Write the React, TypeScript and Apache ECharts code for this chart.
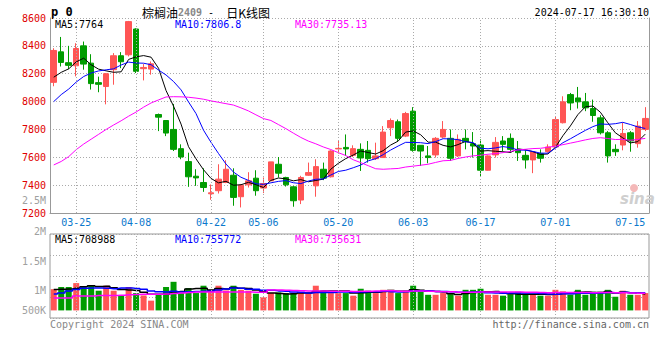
import React, { useEffect, useRef } from 'react';
import * as echarts from 'echarts';

// ---------- data ----------
const dates = [
  '03-20','03-21','03-22','03-25','03-26','03-27','03-28','03-29',
  '04-01','04-02','04-03','04-08','04-09','04-10','04-11','04-12','04-15','04-16','04-17','04-18','04-19','04-22','04-23','04-24','04-25','04-26','04-29','04-30',
  '05-06','05-07','05-08','05-09','05-10','05-13','05-14','05-15','05-16','05-17','05-20','05-21','05-22','05-23','05-24','05-27','05-28','05-29','05-30','05-31',
  '06-03','06-04','06-05','06-06','06-07','06-11','06-12','06-13','06-14','06-17','06-18','06-19','06-20','06-21','06-24','06-25','06-26','06-27','06-28',
  '07-01','07-02','07-03','07-04','07-05','07-08','07-09','07-10','07-11','07-12','07-15','07-16','07-17',
];
const opens = [
  8138, 8357, 8279, 8257, 8400, 8276, 8136, 8108, 8229, 8329,
  8336, 8521, 8236, 8233, 7907, 7864, 7800, 7662, 7569, 7464,
  7419, 7338, 7360, 7419, 7471, 7317, 7402, 7450, 7379, 7431,
  7550, 7455, 7388, 7293, 7471, 7395, 7514, 7460, 7660, 7671,
  7614, 7657, 7650, 7590, 7598, 7812, 7855, 7752, 7931, 7686,
  7610, 7617, 7745, 7736, 7610, 7736, 7698, 7688, 7507, 7617,
  7717, 7736, 7657, 7614, 7581, 7626, 7640, 7674, 7848, 8050,
  8026, 7998, 7950, 7883, 7776, 7657, 7688, 7776, 7698, 7800,
];
const closes = [
  8367, 8281, 8260, 8381, 8269, 8129, 8124, 8200, 8329, 8286,
  8574, 8217, 8245, 8271, 7888, 7774, 7657, 7602, 7460, 7452,
  7383, 7345, 7443, 7514, 7312, 7400, 7431, 7360, 7412, 7567,
  7486, 7402, 7288, 7455, 7490, 7533, 7450, 7645, 7664, 7660,
  7662, 7595, 7590, 7610, 7781, 7864, 7736, 7914, 7650, 7645,
  7598, 7736, 7800, 7593, 7729, 7712, 7681, 7507, 7610, 7707,
  7693, 7657, 7633, 7581, 7638, 7593, 7674, 7871, 7998, 7990,
  7998, 7955, 7900, 7776, 7610, 7640, 7771, 7717, 7824, 7879,
];
const lows = [
  8110, 8252, 8233, 8181, 8229, 8086, 8067, 7980, 8121, 8240,
  8324, 8205, 8152, 8193, 7788, 7752, 7645, 7586, 7388, 7395,
  7352, 7295, 7340, 7414, 7252, 7240, 7383, 7324, 7343, 7431,
  7455, 7390, 7245, 7264, 7467, 7317, 7436, 7455, 7626, 7610,
  7602, 7502, 7562, 7581, 7598, 7752, 7717, 7745, 7640, 7538,
  7557, 7598, 7736, 7574, 7602, 7657, 7598, 7460, 7505, 7598,
  7645, 7633, 7574, 7519, 7486, 7562, 7633, 7669, 7843, 7938,
  7950, 7931, 7855, 7764, 7562, 7610, 7650, 7640, 7669, 7788,
];
const highs = [
  8383, 8464, 8400, 8419, 8431, 8340, 8179, 8205, 8348, 8355,
  8579, 8526, 8269, 8288, 7914, 7864, 7983, 7693, 7633, 7514,
  7521, 7405, 7550, 7579, 7521, 7407, 7493, 7507, 7455, 7567,
  7602, 7460, 7395, 7467, 7562, 7586, 7562, 7650, 7717, 7764,
  7686, 7700, 7717, 7705, 7824, 7879, 7871, 7926, 7960, 7686,
  7681, 7745, 7860, 7800, 7764, 7800, 7781, 7729, 7614, 7745,
  7752, 7771, 7717, 7650, 7645, 7657, 7693, 7895, 8038, 8062,
  8105, 8062, 8014, 7902, 7788, 7693, 7848, 7788, 7860, 7960,
];
const volumes = [
  911000, 1004000, 1004000, 1172000, 1004000, 1088000, 846000, 1060000, 846000, 642000,
  1004000, 744000, 642000, 419000, 670000, 1004000, 1228000, 744000, 958000, 744000,
  1060000, 884000, 1060000, 856000, 1060000, 884000, 846000, 716000, 558000, 744000,
  772000, 744000, 744000, 744000, 744000, 1060000, 856000, 744000, 744000, 744000,
  632000, 930000, 846000, 744000, 884000, 884000, 744000, 846000, 1060000, 818000,
  670000, 670000, 744000, 698000, 632000, 884000, 884000, 930000, 670000, 670000,
  632000, 698000, 800000, 670000, 670000, 632000, 632000, 884000, 818000, 670000,
  884000, 670000, 800000, 800000, 884000, 586000, 846000, 670000, 670000, 744000,
];
// moving-average values before enough history exists in the window
const ma5Head = [8175, 8210, 8235, 8285];
const ma10Head = [8000, 8050, 8090, 8140, 8180, 8205, 8220, 8228, 8235];
const ma30Head = [
  7545, 7570, 7605, 7655, 7695, 7730, 7765, 7800, 7832, 7862,
  7895, 7925, 7960, 7990, 8012, 8033, 8035, 8034, 8031, 8025,
  8017, 8005, 7995, 7985, 7975, 7955, 7933, 7905, 7878,
];
const vma5Head = [902000, 911000, 921000, 949000];
const vma10Head = [707000, 744000, 837000, 902000, 949000, 958000, 958000, 949000, 930000];
const vma30Head = [
  530000, 530000, 530000, 614000, 614000, 623000, 642000, 642000, 642000, 651000,
  670000, 688000, 698000, 698000, 698000, 707000, 725000, 744000, 772000, 790000,
  790000, 790000, 790000, 790000, 790000, 790000, 790000, 781000, 781000,
];

const xLabelDates = ['03-25', '04-08', '04-22', '05-06', '05-20', '06-03', '06-17', '07-01', '07-15'];
const gridLineDates = ['03-25', '04-08', '04-22', '05-06', '05-20', '06-03', '06-17', '07-01'];
const priceMaTexts = ['MA5:7764', 'MA10:7806.8', 'MA30:7735.13'];
const volMaTexts = ['MA5:708988', 'MA10:755772', 'MA30:735631'];
const volTickLabels = ['2.5M', '2M', '1.5M', '1M', '500K'];

// ---------- helpers ----------
function movingAverage(src: number[], n: number, head: number[]) {
  return src.map((_, i) => {
    if (i < n - 1) return head[i];
    let s = 0;
    for (let k = i - n + 1; k <= i; k++) s += src[k];
    return Math.round((s / n) * 100) / 100;
  });
}

const RED = '#ff5555';
const GREEN = '#009c00';
const MA_COLORS = ['#000000', '#0000ff', '#ff00ff'];
const MONO = '"DejaVu Sans Mono", "Liberation Mono", monospace';
const GRID_COLOR = '#aaaaaa';
const BORDER = '#999999';

export default function App() {
  const ref = useRef<HTMLDivElement>(null);

  useEffect(() => {
    if (!ref.current) return;
    const chart = echarts.init(ref.current, undefined, { renderer: 'svg' });

    const candles = dates.map((_, i) => [opens[i], closes[i], lows[i], highs[i]]);
    const ma5 = movingAverage(closes, 5, ma5Head);
    const ma10 = movingAverage(closes, 10, ma10Head);
    const ma30 = movingAverage(closes, 30, ma30Head);
    const vma5 = movingAverage(volumes, 5, vma5Head);
    const vma10 = movingAverage(volumes, 10, vma10Head);
    const vma30 = movingAverage(volumes, 30, vma30Head);
    const volBars = volumes.map((v, i) => ({
      value: v,
      itemStyle: { color: closes[i] >= opens[i] ? RED : GREEN },
    }));

    const dotted = { color: GRID_COLOR, width: 1, type: [1, 2] as any };
    const vLines = {
      silent: true,
      symbol: ['none', 'none'],
      label: { show: false },
      lineStyle: dotted,
      emphasis: { disabled: true },
      data: gridLineDates.map((d) => ({ xAxis: d })),
    };

    const plotLeft = 50;
    const plotRight = 649;
    const volLabelY = [200, 231, 261, 290, 310];
    const maTextX = [55, 175, 295];

    const graphic: any[] = [
      {
        type: 'text', x: 51, y: 12,
        style: { text: 'p 0', font: `bold 12px ${MONO}`, fill: '#000', verticalAlign: 'middle', textVerticalAlign: 'middle' },
      },
      {
        type: 'text', x: 142, y: 12,
        style: {
          text: '{a|棕榈油}{b|2409}{c| -  }{a|日K线图}',
          verticalAlign: 'middle', textVerticalAlign: 'middle',
          rich: {
            a: { fontFamily: '"Noto Sans CJK SC"', fontSize: 12, fill: '#000' },
            b: { fontFamily: MONO, fontSize: 10, fontWeight: 'bold', fill: '#888' },
            c: { fontFamily: MONO, fontSize: 10, fill: '#000' },
          },
        },
      },
      {
        type: 'text', x: plotRight, y: 12,
        style: { text: '2024-07-17 16:30:10', font: `10px ${MONO}`, fill: '#000', align: 'right', textAlign: 'right', verticalAlign: 'middle', textVerticalAlign: 'middle' },
      },
      ...priceMaTexts.map((t, i) => ({
        type: 'text', x: maTextX[i], y: 24, z: 100,
        style: { text: t, font: `10px ${MONO}`, fill: MA_COLORS[i], verticalAlign: 'middle', textVerticalAlign: 'middle' },
      })),
      ...volMaTexts.map((t, i) => ({
        type: 'text', x: maTextX[i], y: 239, z: 100,
        style: { text: t, font: `10px ${MONO}`, fill: MA_COLORS[i], verticalAlign: 'middle', textVerticalAlign: 'middle' },
      })),
      ...volTickLabels.map((t, i) => ({
        type: 'text', x: plotLeft - 4, y: volLabelY[i],
        style: { text: t, font: `10px ${MONO}`, fill: '#a0a0a0', align: 'right', textAlign: 'right', verticalAlign: 'middle', textVerticalAlign: 'middle' },
      })),
      {
        type: 'text', x: plotLeft, y: 324,
        style: { text: 'Copyright 2024 SINA.COM', font: `10px ${MONO}`, fill: '#888', verticalAlign: 'middle', textVerticalAlign: 'middle' },
      },
      {
        type: 'text', x: plotRight, y: 324,
        style: { text: 'http://finance.sina.com.cn', font: `10px ${MONO}`, fill: '#666', align: 'right', textAlign: 'right', verticalAlign: 'middle', textVerticalAlign: 'middle' },
      },
      {
        type: 'circle', shape: { cx: 634, cy: 188, r: 4 }, z: 1,
        style: { fill: '#f4b8b8' },
      },
      {
        type: 'text', x: 620, y: 199, z: 1,
        style: { text: 'sina', font: `italic bold 15px "DejaVu Sans", sans-serif`, fill: '#cfcfcf', verticalAlign: 'middle', textVerticalAlign: 'middle' },
      },
    ];

    const option: any = {
      animation: false,
      backgroundColor: '#ffffff',
      grid: [
        { left: plotLeft, right: 660 - plotRight, top: 18, height: 195 },
        { left: plotLeft, right: 660 - plotRight, top: 234, height: 84, show: true, borderColor: BORDER, borderWidth: 1, backgroundColor: 'transparent' },
      ],
      xAxis: [
        {
          type: 'category', gridIndex: 0, data: dates, boundaryGap: true,
          axisLine: { lineStyle: { color: BORDER, width: 1 } },
          axisTick: { show: false },
          splitLine: { show: false },
          axisLabel: {
            interval: (_i: number, v: string) => xLabelDates.includes(v),
            color: '#0a78cc', fontFamily: MONO, fontSize: 10, margin: 4,
          },
        },
        {
          type: 'category', gridIndex: 1, data: dates, boundaryGap: true,
          axisLine: { show: false }, axisTick: { show: false }, axisLabel: { show: false }, splitLine: { show: false },
        },
      ],
      yAxis: [
        {
          type: 'value', gridIndex: 0, min: 7200, max: 8600, interval: 200, position: 'left',
          axisLine: { show: true, lineStyle: { color: BORDER, width: 1 } },
          axisTick: { show: false },
          axisLabel: { color: '#e00000', fontFamily: MONO, fontSize: 10, margin: 4, formatter: (v: number) => String(v) },
          splitLine: { show: true, lineStyle: dotted },
        },
        {
          type: 'value', gridIndex: 0, min: 7200, max: 8600, interval: 200, position: 'right',
          axisLine: { show: true, lineStyle: { color: BORDER, width: 1 } },
          axisTick: { show: false }, axisLabel: { show: false }, splitLine: { show: false },
        },
        {
          type: 'value', gridIndex: 1, min: -326000, max: 3280000, position: 'left',
          axisLine: { show: false }, axisTick: { show: false }, axisLabel: { show: false }, splitLine: { show: false },
        },
        {
          type: 'value', gridIndex: 1, min: 0, max: 4, interval: 1, position: 'right',
          axisLine: { show: false }, axisTick: { show: false }, axisLabel: { show: false },
          splitLine: { show: true, lineStyle: dotted },
        },
      ],
      series: [
        {
          type: 'candlestick', xAxisIndex: 0, yAxisIndex: 0, data: candles, barWidth: 6,
          itemStyle: { color: RED, color0: GREEN, borderColor: RED, borderColor0: GREEN, borderWidth: 1 },
          markLine: vLines,
          z: 3,
        },
        ...[ma5, ma10, ma30].map((d, i) => ({
          type: 'line', xAxisIndex: 0, yAxisIndex: 0, data: d, showSymbol: false, symbol: 'none',
          lineStyle: { color: MA_COLORS[i], width: 1 }, z: 4, silent: true,
        })),
        {
          type: 'bar', xAxisIndex: 1, yAxisIndex: 2, data: volBars, barWidth: 6,
          markLine: vLines, z: 3,
        },
        ...[vma5, vma10, vma30].map((d, i) => ({
          type: 'line', xAxisIndex: 1, yAxisIndex: 2, data: d, showSymbol: false, symbol: 'none', step: 'middle',
          lineStyle: { color: MA_COLORS[i], width: 1.5 }, z: 4, silent: true,
        })),
      ],
      graphic,
    };

    chart.setOption(option);
    return () => chart.dispose();
  }, []);

  return (
    <div
      ref={ref}
      style={{ position: 'absolute', left: 0, top: 0, width: 660, height: 360, background: '#fff' }}
    />
  );
}
